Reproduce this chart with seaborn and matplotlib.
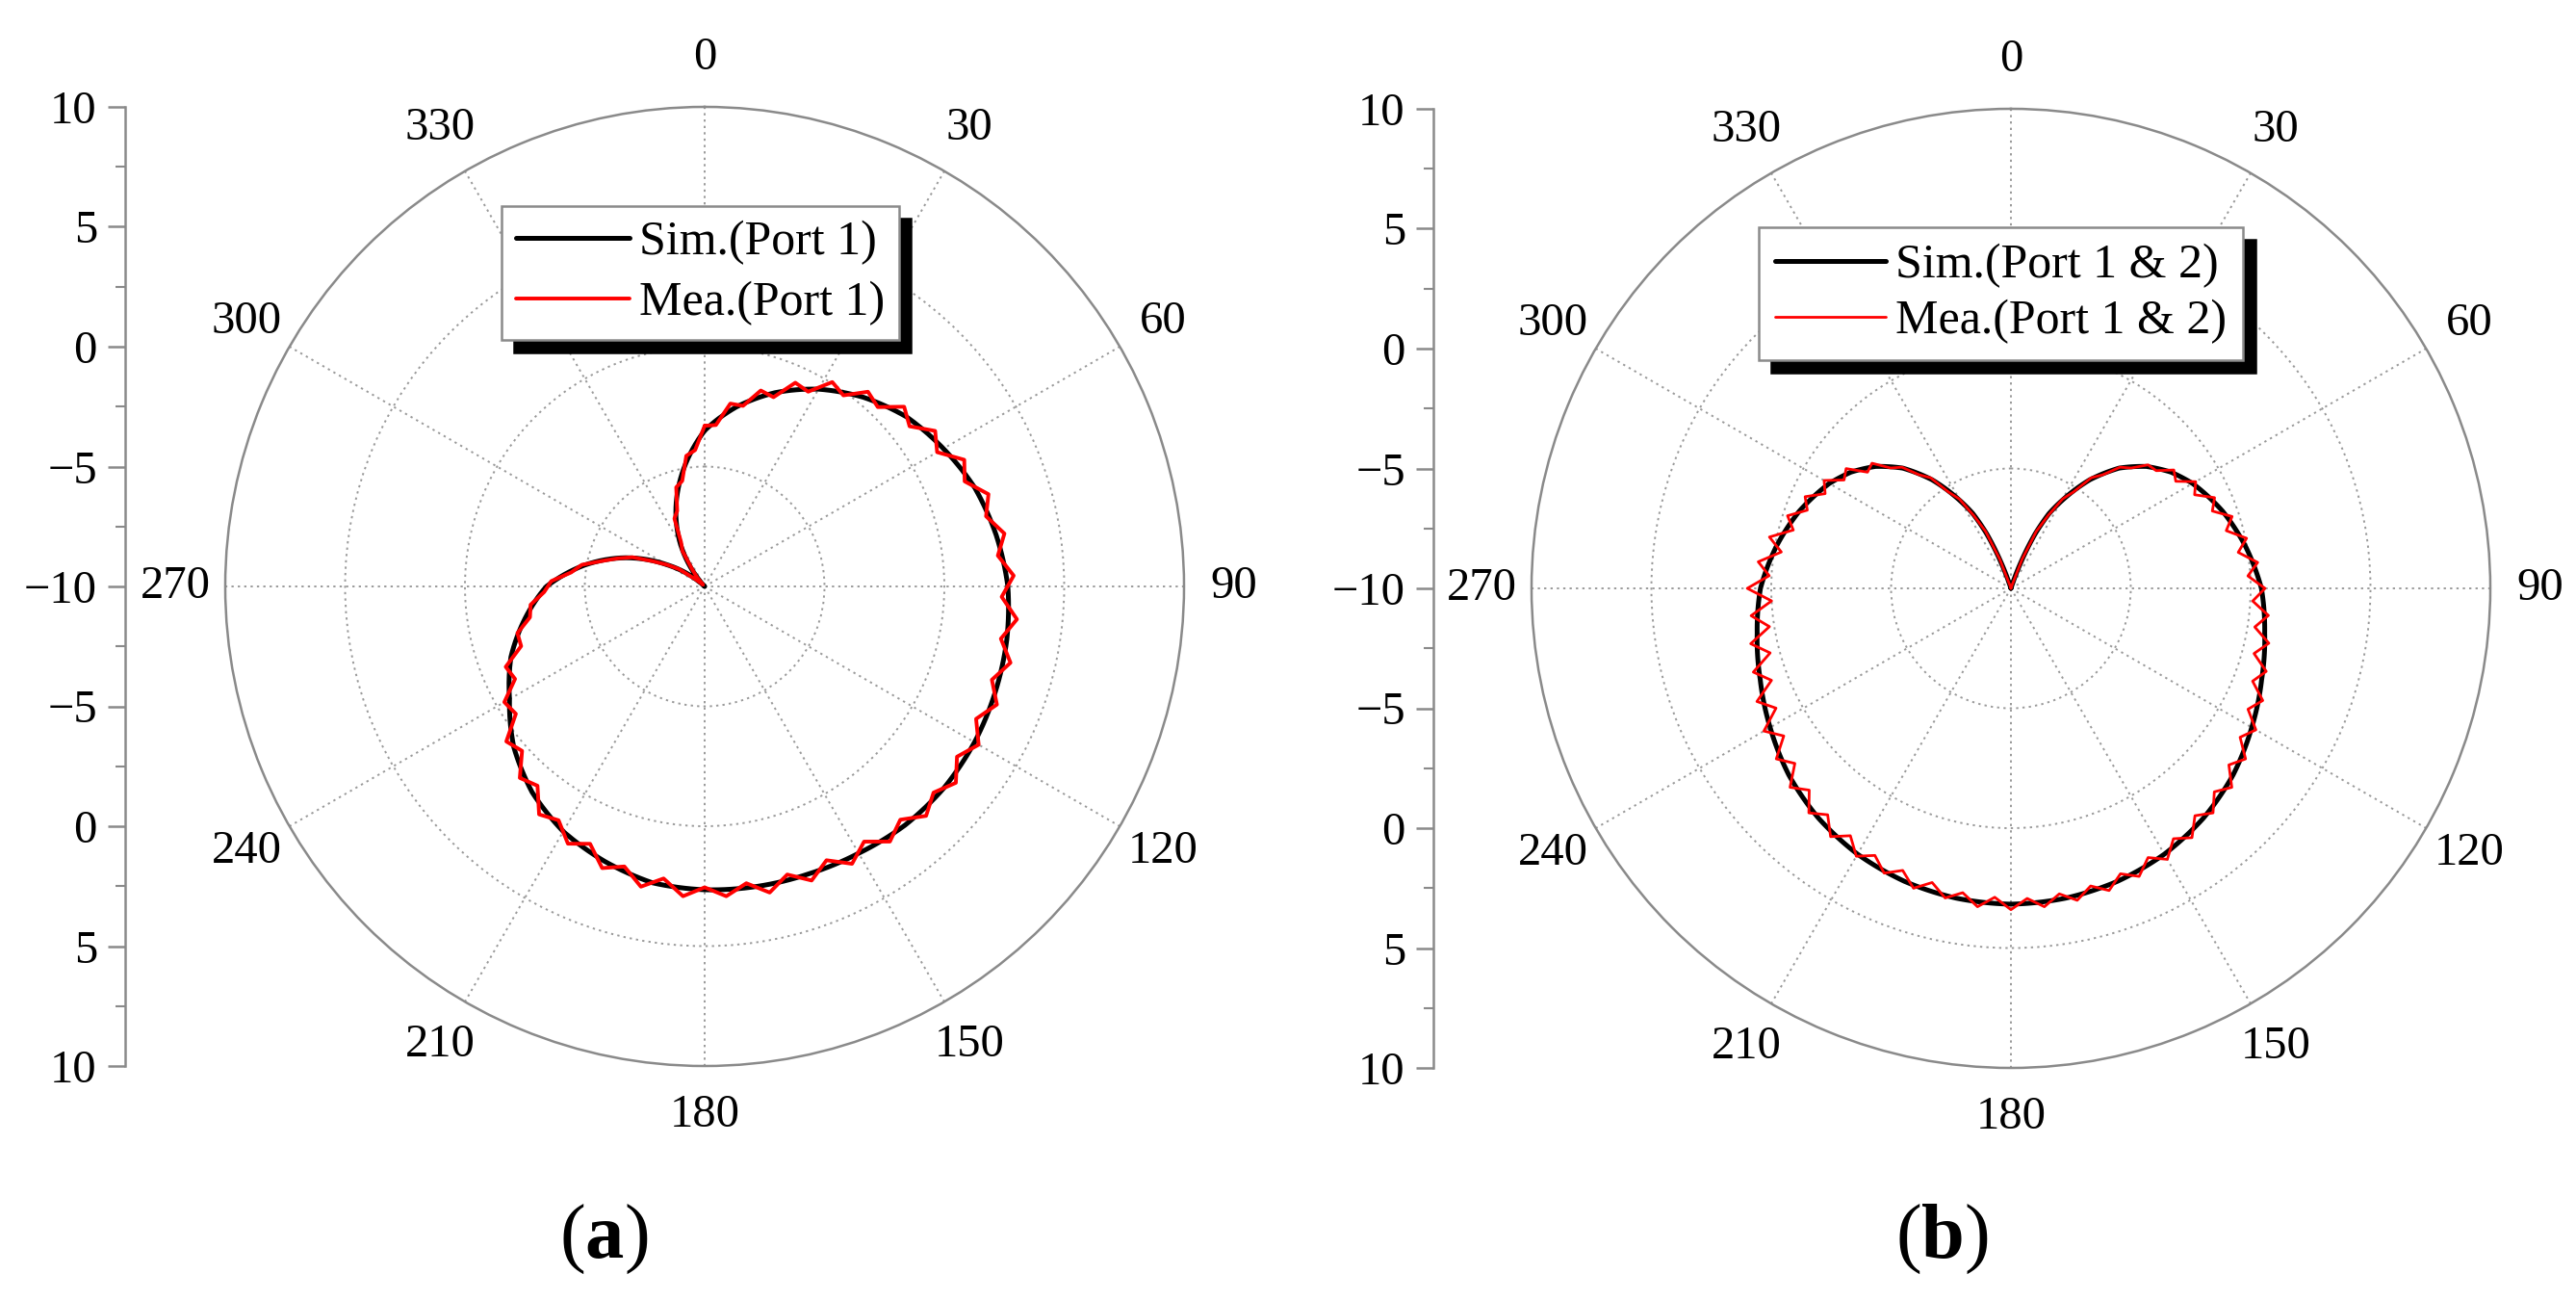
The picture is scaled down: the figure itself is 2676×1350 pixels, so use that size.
import numpy as np
import matplotlib
matplotlib.use("Agg")
import matplotlib.pyplot as plt
from matplotlib.ticker import FixedLocator, MultipleLocator
import seaborn as sns

# radial scale in dB
r_min, r_max = -10, 10
r_grid = [-5, 0, 5]
side_ticks = [-10, -5, 0, 5, 10]
theta_ticks = list(range(0, 360, 30))

# (a) port 1 only
sim_a_deg = [0, 10, 20, 30, 40, 50, 60, 70, 80, 90, 100, 110, 120, 130, 140, 150, 160, 170,
             180, 190, 200, 210, 220, 230, 240, 250, 260, 270, 280, 290, 300, 310, 315, 320,
             330, 340, 350, 360]
sim_a = [-3.5, -2.4, -1.4, -0.5, 0.3, 1.0, 1.5, 2.0, 2.35, 2.65, 2.8, 2.9, 3.0, 3.05, 3.0, 2.85,
         2.75, 2.7, 2.65, 2.55, 2.2, 1.8, 1.2, 0.4, -0.6, -1.4, -2.4, -3.4, -4.9, -6.5, -8.2,
         -9.6, -10.0, -9.6, -8.0, -6.5, -5.0, -3.5]

mea_a_deg = list(range(0, 360, 4))
mea_a = [-3.3, -3.25, -2.3, -2.3, -1.5, -1.6, -0.7, -0.8, 0.05, -0.15,
         0.6, 0.4, 1.2, 0.85, 1.6, 1.2, 2.05, 1.7, 2.45, 2.1,
         2.7, 2.3, 2.9, 2.4, 3.1, 2.55, 3.15, 2.6, 3.15, 2.6,
         3.2, 2.7, 3.3, 2.85, 3.3, 2.7, 3.15, 2.55, 3.1, 2.5,
         3.05, 2.5, 3.05, 2.5, 2.95, 2.55, 2.95, 2.3, 2.8, 2.15,
         2.5, 1.75, 2.15, 1.5, 1.75, 0.85, 1.1, 0.25, 0.5, -0.5,
         -0.35, -1.2, -1.05, -1.95, -1.95, -2.6, -2.7, -3.3, -3.6, -4.4,
         -4.8, -5.6, -6.2, -6.75, -7.6, -8.2, -8.7, -9.5, -9.8, -9.9,
         -9.5, -9.1, -8.25, -7.9, -6.9, -6.65, -5.7, -5.5, -4.5, -4.3]

# (b) port 1 & 2
sim_b_deg = [0, 18, 21, 24, 27, 30, 36, 42, 48, 54, 60, 70, 80, 90, 100, 110, 120, 130, 140,
             150, 160, 170, 180, 190, 200, 210, 220, 230, 240, 250, 260, 270, 280, 290, 300,
             306, 312, 318, 324, 330, 333, 336, 339, 342, 360]
sim_b = [-10.0, -10.0, -8.8, -7.5, -6.5, -5.8, -4.4, -3.25, -2.4, -1.75, -1.25, -0.6, -0.05,
         0.45, 0.75, 1.13, 1.6, 2.1, 2.5, 2.8, 3.0, 3.12, 3.17, 3.12, 3.0, 2.8, 2.5, 2.1, 1.6,
         1.13, 0.75, 0.45, -0.05, -0.6, -1.25, -1.75, -2.4, -3.25, -4.4, -5.8, -6.5, -7.5,
         -8.8, -10.0, -10.0]

mea_b_deg = list(range(0, 360, 3))
mea_b = [-10.0, -10.0, -10.0, -10.0, -10.0, -10.0, -9.9, -8.7, -7.4, -6.6,
         -5.7, -5.2, -4.3, -3.9, -3.2, -2.9, -2.3, -2.2, -1.6, -1.8,
         -1.1, -1.4, -0.7, -1.0, -0.3, -0.7, 0.05, -0.4, 0.35, -0.1,
         0.6, 0.1, 0.8, 0.3, 1.0, 0.5, 1.2, 0.8, 1.5, 1.1,
         1.8, 1.4, 2.1, 1.7, 2.4, 2.0, 2.6, 2.2, 2.85, 2.45,
         3.05, 2.6, 3.15, 2.75, 3.25, 2.85, 3.3, 2.9, 3.35, 2.95,
         3.4, 2.9, 3.35, 2.85, 3.2, 2.7, 3.15, 2.6, 3.0, 2.5,
         2.9, 2.3, 2.8, 2.15, 2.6, 1.9, 2.4, 1.6, 2.1, 1.3,
         1.9, 1.0, 1.6, 0.7, 1.3, 0.4, 1.1, 0.2, 0.9, 0.0,
         1.0, 0.1, 0.6, -0.3, 0.3, -0.6, -0.2, -0.9, -0.6, -1.3,
         -1.0, -1.7, -1.5, -2.3, -2.2, -2.9, -3.2, -3.9, -4.3, -5.2,
         -5.7, -6.6, -7.4, -8.7, -9.9, -10.0, -10.0, -10.0, -10.0, -10.0]

DPI = 100
W, H = 2676, 1350
R_PX = 498
GRID_GRAY = "#9a9a9a"
AX_GRAY = "#8a8a8a"

sns.set_theme(style="white")
plt.rcParams["font.family"] = ["Liberation Serif", "DejaVu Serif"]
plt.rcParams["mathtext.fontset"] = "custom"
plt.rcParams["mathtext.rm"] = "Liberation Serif"
plt.rcParams["mathtext.bf"] = "Liberation Serif:bold"
plt.rcParams["text.color"] = "black"


def fmt(v):
    return f"{v:g}".replace("-", "\u2212")


def closed(deg, vals):
    # close the loop back to the starting angle
    deg = np.asarray(deg, dtype=float)
    vals = np.asarray(vals, dtype=float)
    if deg[-1] < 360:
        deg = np.append(deg, 360.0)
        vals = np.append(vals, vals[0])
    return np.deg2rad(deg), vals


def draw_panel(fig, cx, cy, side_x, sim_deg, sim, mea_deg, mea, labels, legend_xy,
               leg_opts, shadow_off, mea_lw, tag, tag_xy):
    rect = [(cx - R_PX) / W, (H - cy - R_PX) / H, 2 * R_PX / W, 2 * R_PX / H]
    ax = fig.add_axes(rect, projection="polar")
    ax.set_theta_zero_location("N")
    ax.set_theta_direction(-1)

    th, rr = closed(sim_deg, sim)
    sns.lineplot(x=th, y=rr, ax=ax, color="black", linewidth=3.6, sort=False,
                 estimator=None, label=labels[0])
    # draw the simulated trace as arcs in (theta, r) rather than chords
    ax.lines[-1].get_path()._interpolation_steps = 16
    th, rr = closed(mea_deg, mea)
    sns.lineplot(x=th, y=rr, ax=ax, color="#ff0000", linewidth=mea_lw, sort=False,
                 estimator=None, label=labels[1])

    ax.set_rlim(r_min, r_max)
    ax.set_rticks(r_grid)
    ax.set_yticklabels([])
    ax.set_xlabel("")
    ax.set_ylabel("")
    ax.set_xticks(np.deg2rad(theta_ticks))
    ax.set_xticklabels([str(t) for t in theta_ticks])
    ax.xaxis.set_minor_locator(FixedLocator(np.deg2rad(np.arange(15, 360, 30))))
    ax.tick_params(axis="x", which="major", labelsize=35, pad=30, direction="in",
                   length=11, width=1.3, color=AX_GRAY, labelcolor="black")
    ax.tick_params(axis="x", which="minor", direction="in", length=7, width=1.3,
                   color=AX_GRAY)
    ax.grid(True, linestyle=(0, (1.2, 2.2)), color=GRID_GRAY, linewidth=1.4)
    ax.spines["polar"].set_color(AX_GRAY)
    ax.spines["polar"].set_linewidth(1.8)

    leg = ax.legend(loc="upper left", bbox_to_anchor=(legend_xy[0] / W, 1 - legend_xy[1] / H),
                    bbox_transform=fig.transFigure, frameon=True, fancybox=False,
                    handletextpad=0.2, borderaxespad=0,
                    shadow={"ox": shadow_off, "oy": -shadow_off, "facecolor": "black",
                            "edgecolor": "black", "alpha": 1.0},
                    **leg_opts)
    leg.get_frame().set_edgecolor(AX_GRAY)
    leg.get_frame().set_linewidth(1.8)
    leg.get_frame().set_alpha(1.0)

    # mirrored dB scale on the left
    span = r_max - r_min
    side = fig.add_axes([side_x / W, rect[1], 0.0004, rect[3]])
    pos = [t - r_min for t in reversed(side_ticks)] + [-(t - r_min) for t in side_ticks[1:]]
    lab = [fmt(t) for t in reversed(side_ticks)] + [fmt(t) for t in side_ticks[1:]]
    side.set_ylim(-span, span)
    side.set_yticks(pos)
    side.set_yticklabels(lab)
    side.yaxis.set_minor_locator(MultipleLocator(2.5))
    side.set_xticks([])
    for s in ["top", "right", "bottom"]:
        side.spines[s].set_visible(False)
    side.spines["left"].set_color(AX_GRAY)
    side.spines["left"].set_linewidth(1.8)
    side.patch.set_alpha(0)
    side.tick_params(axis="y", which="major", direction="out", length=13, width=1.8,
                     color=AX_GRAY, labelsize=35, pad=8, labelcolor="black", left=True)
    side.tick_params(axis="y", which="minor", direction="out", length=7, width=1.5,
                     color=AX_GRAY, left=True)

    fig.text(tag_xy[0] / W, 1 - tag_xy[1] / H, tag, ha="center", va="center",
             fontsize=58, color="black")


fig = plt.figure(figsize=(W / DPI, H / DPI), dpi=DPI)
fig.patch.set_facecolor("white")

draw_panel(fig, 732, 609, 130, sim_a_deg, sim_a, mea_a_deg, mea_a,
           ["Sim.(Port 1)", "Mea.(Port 1)"], (521, 214),
           dict(fontsize=36, borderpad=0.3, labelspacing=0.32, handlelength=2.35), 9, 2.8,
           r"($\mathbf{a}$)", (627, 1287))
draw_panel(fig, 2089, 611, 1489, sim_b_deg, sim_b, mea_b_deg, mea_b,
           ["Sim.(Port 1 & 2)", "Mea.(Port 1 & 2)"], (1827, 236),
           dict(fontsize=36, borderpad=0.34, labelspacing=0.22, handlelength=2.3), 9.5, 2.0,
           r"($\mathbf{b}$)", (2017, 1287))

fig.savefig("out.png", dpi=DPI, facecolor="white")
